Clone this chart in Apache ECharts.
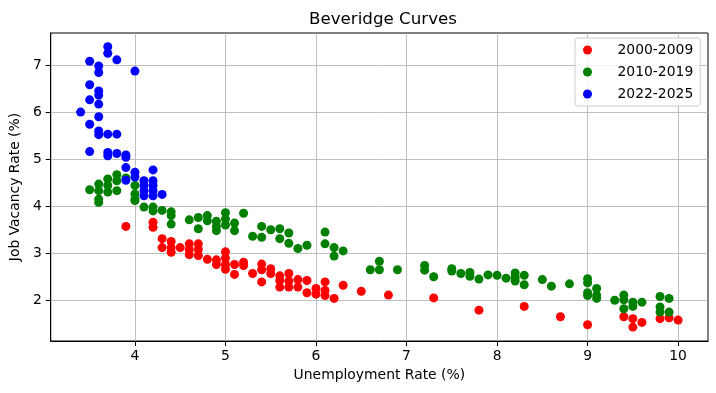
<!DOCTYPE html>
<html>
<head>
<meta charset="utf-8">
<script src="https://cdn.jsdelivr.net/npm/echarts@6/dist/echarts.min.js"></script>
<style>html,body{margin:0;padding:0;background:#fff;}#c{width:716px;height:393px;}</style>
</head>
<body>
<div id="c"></div>
<script>
// Series values: [unemployment rate, job vacancy rate]
const s2000 = [
[3.9,3.57],[4.2,3.66],[4.2,3.55],[4.3,3.31],[4.3,3.12],[4.4,3.25],[4.4,3.02],[4.4,3.12],[4.5,3.12],
[4.6,3.2],[4.6,3.08],[4.6,2.97],[4.7,3.2],[4.7,3.08],[4.7,2.95],[4.8,2.87],[4.9,2.86],[4.9,2.76],
[5.0,3.03],[5.0,2.9],[5.0,2.76],[5.0,2.66],[5.1,2.76],[5.1,2.55],[5.2,2.81],[5.2,2.74],[5.3,2.57],
[5.4,2.77],[5.4,2.65],[5.4,2.39],[5.5,2.67],[5.5,2.57],[5.6,2.52],[5.6,2.42],[5.6,2.28],[5.7,2.57],
[5.7,2.41],[5.7,2.28],[5.8,2.44],[5.8,2.28],[5.9,2.42],[5.9,2.16],[6.0,2.25],[6.0,2.13],[6.1,2.39],
[6.1,2.21],[6.1,2.1],[6.2,2.04],[6.3,2.32],[6.5,2.19],[6.8,2.11],[7.3,2.05],[7.8,1.79],[8.3,1.87],
[8.7,1.65],[9.0,1.48],[9.4,1.65],[9.5,1.61],[9.5,1.43],[9.6,1.53],[9.8,1.61],[9.9,1.63],[10.0,1.58]
];
const s2010 = [
[3.5,4.35],[3.6,4.47],[3.6,4.33],[3.6,4.15],[3.6,4.08],[3.7,4.58],[3.7,4.44],[3.7,4.3],
[3.8,4.67],[3.8,4.54],[3.8,4.33],[3.9,4.6],[4.0,4.44],[4.0,4.26],[4.0,4.15],[4.0,4.12],
[4.1,3.98],[4.2,3.98],[4.2,3.9],[4.3,3.91],[4.4,3.88],[4.4,3.8],[4.4,3.62],[4.6,3.71],
[4.7,3.76],[4.7,3.52],[4.8,3.8],[4.8,3.69],[4.9,3.68],[4.9,3.57],[4.9,3.48],[5.0,3.86],
[5.0,3.73],[5.0,3.6],[5.1,3.64],[5.1,3.48],[5.2,3.85],[5.3,3.36],[5.4,3.57],[5.4,3.34],
[5.5,3.5],[5.6,3.52],[5.6,3.31],[5.7,3.43],[5.7,3.21],[5.8,3.1],[5.9,3.17],[6.1,3.45],
[6.1,3.2],[6.2,3.12],[6.2,2.94],[6.3,3.05],[6.6,2.65],[6.7,2.83],[6.7,2.65],[6.9,2.65],
[7.2,2.74],[7.2,2.64],[7.3,2.5],[7.5,2.67],[7.5,2.62],[7.6,2.57],[7.7,2.59],[7.7,2.51],
[7.8,2.45],[7.9,2.54],[8.0,2.53],[8.1,2.47],[8.2,2.58],[8.2,2.49],[8.2,2.41],[8.3,2.53],
[8.3,2.33],[8.5,2.44],[8.6,2.3],[8.8,2.35],[9.0,2.46],[9.0,2.37],[9.0,2.16],[9.0,2.1],
[9.1,2.25],[9.1,2.11],[9.1,2.04],[9.3,2.0],[9.4,2.11],[9.4,2.01],[9.4,1.82],[9.5,1.96],
[9.5,1.87],[9.6,1.96],[9.8,2.08],[9.8,1.86],[9.8,1.75],[9.9,2.04],[9.9,1.75]
];
const s2022 = [
[3.7,7.39],[3.7,7.25],[3.5,7.08],[3.8,7.11],[3.6,6.98],[3.6,6.84],[4.0,6.87],[3.5,6.58],
[3.6,6.45],[3.6,6.36],[3.5,6.26],[3.6,6.17],[3.4,6.0],[3.6,5.9],[3.5,5.74],[3.6,5.6],
[3.6,5.52],[3.7,5.53],[3.8,5.53],[3.5,5.16],[3.7,5.14],[3.7,5.07],[3.8,5.12],[3.9,5.09],
[3.9,5.04],[3.9,4.82],[4.0,4.72],[4.0,4.62],[3.9,4.55],[4.2,4.77],[4.1,4.54],[4.2,4.54],
[4.1,4.44],[4.2,4.44],[4.1,4.33],[4.2,4.33],[4.1,4.22],[4.2,4.22],[4.3,4.25]
];
const seriesNames = ['2000-2009','2010-2019','2022-2025'];
const xTicks = [4,5,6,7,8,9,10];
const yTicks = [2,3,4,5,6,7];

const FONT = 'DejaVu Sans';
const chart = echarts.init(document.getElementById('c'), null, {renderer:'canvas'});
const mk = (name, data, color) => ({
  name, type:'scatter', data, symbol:'circle', symbolSize:9,
  itemStyle:{color, opacity:1}, emphasis:{disabled:true}
});
chart.setOption({
  animation:false,
  textStyle:{fontFamily:FONT},
  title:{text:'Beveridge Curves', left:378, top:6, textAlign:'center',
    textStyle:{fontFamily:FONT, fontSize:16.7, fontWeight:'normal', color:'#000'}},
  grid:{left:48, right:8, top:33, bottom:52, show:true, borderColor:'#000', borderWidth:1, backgroundColor:'transparent'},
  legend:{
    orient:'vertical', left:575, top:38, padding:[5,7,5,8], itemGap:8,
    itemWidth:12, itemHeight:9, icon:'circle',
    backgroundColor:'rgba(255,255,255,0.8)', borderColor:'#cccccc', borderWidth:1, borderRadius:3,
    textStyle:{fontFamily:FONT, fontSize:13.9, color:'#000', padding:[0,0,0,19]},
    data:seriesNames
  },
  xAxis:{
    type:'value', min:3.07, max:10.33,
    name:'Unemployment Rate (%)', nameLocation:'middle', nameGap:27,
    nameTextStyle:{fontFamily:FONT, fontSize:13.9, color:'#000'},
    axisLine:{show:true, lineStyle:{color:'#000', width:1}},
    axisTick:{show:true, length:5, inside:false, customValues:xTicks, lineStyle:{color:'#000'}},
    axisLabel:{customValues:xTicks, margin:8, fontFamily:FONT, fontSize:13.9, color:'#000'},
    splitLine:{show:true, lineStyle:{color:'#b0b0b0', width:0.8}}
  },
  yAxis:{
    type:'value', min:1.135, max:7.68,
    name:'Job Vacancy Rate (%)', nameLocation:'middle', nameGap:24, nameRotate:90,
    nameTextStyle:{fontFamily:FONT, fontSize:13.9, color:'#000'},
    axisLine:{show:true, lineStyle:{color:'#000', width:1}},
    axisTick:{show:true, length:5, inside:false, customValues:yTicks, lineStyle:{color:'#000'}},
    axisLabel:{customValues:yTicks, margin:9, fontFamily:FONT, fontSize:13.9, color:'#000'},
    splitLine:{show:true, lineStyle:{color:'#b0b0b0', width:0.8}}
  },
  series:[
    mk(seriesNames[0], s2000, '#ff0000'),
    mk(seriesNames[1], s2010, '#008000'),
    mk(seriesNames[2], s2022, '#0000ff')
  ]
});
</script>
</body>
</html>
